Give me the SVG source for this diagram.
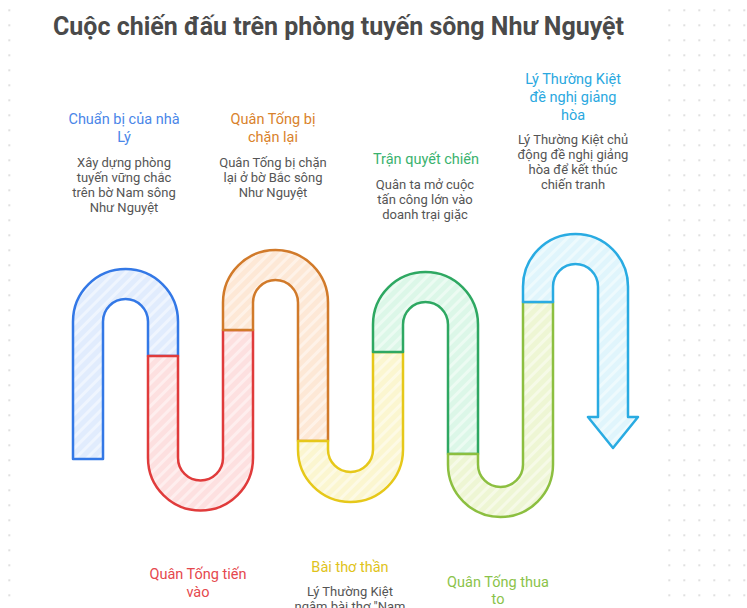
<svg xmlns="http://www.w3.org/2000/svg" width="747" height="608" viewBox="0 0 747 608">
<defs>
<pattern id="dots" x="9.3" y="10.3" width="15" height="15" patternUnits="userSpaceOnUse">
<circle cx="0" cy="0" r="1.1" fill="#d9d9d9"/><circle cx="15" cy="0" r="1.1" fill="#d9d9d9"/><circle cx="0" cy="15" r="1.1" fill="#d9d9d9"/><circle cx="15" cy="15" r="1.1" fill="#d9d9d9"/>
</pattern>
<pattern id="hatch" width="8" height="8" patternUnits="userSpaceOnUse" patternTransform="rotate(45)">
<rect x="0" y="0" width="3" height="8" fill="#ffffff" fill-opacity="0.45"/>
</pattern>
<style>
.seg{stroke-width:2.5;stroke-linejoin:round}
.h{fill:url(#hatch);stroke:none}
.t{font-family:Roboto,"Liberation Sans",sans-serif;font-size:14.5px;text-anchor:middle}
.d{font-family:Roboto,"Liberation Sans",sans-serif;font-size:13px;fill:#555555;text-anchor:middle}
</style>
</defs>
<rect width="747" height="608" fill="#ffffff"/>
<rect width="747" height="608" fill="url(#dots)"/>
<rect x="17" y="0" width="647" height="608" fill="#ffffff"/>
<text x="53" y="35" font-family="Roboto,'Liberation Sans',sans-serif" font-size="25" font-weight="bold" fill="#4a4a4a" textLength="571" lengthAdjust="spacingAndGlyphs">Cuộc chiến đấu trên phòng tuyến sông Như Nguyệt</text>

<g id="connectors">
<g id="seg-blue">
<path d="M73,459 V321.5 A52.5,52.5 0 0 1 178,321.5 V356 H148 V321.5 A22.5,22.5 0 0 0 103,321.5 V459 Z" fill="#e1ecfd"/>
<path class="h" d="M73,459 V321.5 A52.5,52.5 0 0 1 178,321.5 V356 H148 V321.5 A22.5,22.5 0 0 0 103,321.5 V459 Z"/>
<path class="seg" d="M73,459 V321.5 A52.5,52.5 0 0 1 178,321.5 V356 H148 V321.5 A22.5,22.5 0 0 0 103,321.5 V459 Z" fill="none" stroke="#3378e6"/>
</g>
<g id="seg-red">
<path d="M148,356 H178 V458 A22.5,22.5 0 0 0 223,458 V330 H253 V458 A52.5,52.5 0 0 1 148,458 Z" fill="#fde0e0"/>
<path class="h" d="M148,356 H178 V458 A22.5,22.5 0 0 0 223,458 V330 H253 V458 A52.5,52.5 0 0 1 148,458 Z"/>
<path class="seg" d="M148,356 H178 V458 A22.5,22.5 0 0 0 223,458 V330 H253 V458 A52.5,52.5 0 0 1 148,458 Z" fill="none" stroke="#e03b3b"/>
</g>
<g id="seg-orange">
<path d="M223,330 V302.5 A52.5,52.5 0 0 1 328,302.5 V441 H298 V302.5 A22.5,22.5 0 0 0 253,302.5 V330 Z" fill="#fde8d6"/>
<path class="h" d="M223,330 V302.5 A52.5,52.5 0 0 1 328,302.5 V441 H298 V302.5 A22.5,22.5 0 0 0 253,302.5 V330 Z"/>
<path class="seg" d="M223,330 V302.5 A52.5,52.5 0 0 1 328,302.5 V441 H298 V302.5 A22.5,22.5 0 0 0 253,302.5 V330 Z" fill="none" stroke="#d17a2a"/>
</g>
<g id="seg-yellow">
<path d="M298,441 H328 V449.5 A22.5,22.5 0 0 0 373,449.5 V352 H403 V449.5 A52.5,52.5 0 0 1 298,449.5 Z" fill="#fbf6d0"/>
<path class="h" d="M298,441 H328 V449.5 A22.5,22.5 0 0 0 373,449.5 V352 H403 V449.5 A52.5,52.5 0 0 1 298,449.5 Z"/>
<path class="seg" d="M298,441 H328 V449.5 A22.5,22.5 0 0 0 373,449.5 V352 H403 V449.5 A52.5,52.5 0 0 1 298,449.5 Z" fill="none" stroke="#e6c81a"/>
</g>
<g id="seg-green">
<path d="M373,352 V324.5 A52.5,52.5 0 0 1 478,324.5 V454 H448 V324.5 A22.5,22.5 0 0 0 403,324.5 V352 Z" fill="#dcf7e8"/>
<path class="h" d="M373,352 V324.5 A52.5,52.5 0 0 1 478,324.5 V454 H448 V324.5 A22.5,22.5 0 0 0 403,324.5 V352 Z"/>
<path class="seg" d="M373,352 V324.5 A52.5,52.5 0 0 1 478,324.5 V454 H448 V324.5 A22.5,22.5 0 0 0 403,324.5 V352 Z" fill="none" stroke="#2ea862"/>
</g>
<g id="seg-lime">
<path d="M448,454 H478 V464.5 A22.5,22.5 0 0 0 523,464.5 V302 H553 V464.5 A52.5,52.5 0 0 1 448,464.5 Z" fill="#eef6d4"/>
<path class="h" d="M448,454 H478 V464.5 A22.5,22.5 0 0 0 523,464.5 V302 H553 V464.5 A52.5,52.5 0 0 1 448,464.5 Z"/>
<path class="seg" d="M448,454 H478 V464.5 A22.5,22.5 0 0 0 523,464.5 V302 H553 V464.5 A52.5,52.5 0 0 1 448,464.5 Z" fill="none" stroke="#8cbf40"/>
</g>
<g id="seg-sky">
<path d="M523,302 V286.5 A52.5,52.5 0 0 1 628,286.5 V417 H638 L613,448 L588,417 H598 V286.5 A22.5,22.5 0 0 0 553,286.5 V302 Z" fill="#e0f5fc"/>
<path class="h" d="M523,302 V286.5 A52.5,52.5 0 0 1 628,286.5 V417 H638 L613,448 L588,417 H598 V286.5 A22.5,22.5 0 0 0 553,286.5 V302 Z"/>
<path class="seg" d="M523,302 V286.5 A52.5,52.5 0 0 1 628,286.5 V417 H638 L613,448 L588,417 H598 V286.5 A22.5,22.5 0 0 0 553,286.5 V302 Z" fill="none" stroke="#29abe2"/>
</g>
</g>

<g id="node-chuan-bi">
<text class="t" fill="#4a86e8"><tspan x="124" y="124">Chuẩn bị của nhà</tspan><tspan x="124" y="142">Lý</tspan></text>
<text class="d"><tspan x="124" y="166.5">Xây dựng phòng</tspan><tspan x="124" y="181.5">tuyến vững chắc</tspan><tspan x="124" y="196.5">trên bờ Nam sông</tspan><tspan x="124" y="211.5">Như Nguyệt</tspan></text>
</g>
<g id="node-chan-lai">
<text class="t" fill="#d9822b"><tspan x="273" y="124">Quân Tống bị</tspan><tspan x="273" y="142">chặn lại</tspan></text>
<text class="d"><tspan x="273" y="166.5">Quân Tống bị chặn</tspan><tspan x="273" y="181.5">lại ở bờ Bắc sông</tspan><tspan x="273" y="196.5">Như Nguyệt</tspan></text>
</g>
<g id="node-quyet-chien">
<text class="t" fill="#3ab26e"><tspan x="426" y="164">Trận quyết chiến</tspan></text>
<text class="d"><tspan x="425" y="188.5">Quân ta mở cuộc</tspan><tspan x="425" y="203.5">tấn công lớn vào</tspan><tspan x="425" y="218.5">doanh trại giặc</tspan></text>
</g>
<g id="node-giang-hoa">
<text class="t" fill="#2aa8e0"><tspan x="573" y="84">Lý Thường Kiệt</tspan><tspan x="573" y="102">đề nghị giảng</tspan><tspan x="573" y="120">hòa</tspan></text>
<text class="d"><tspan x="573" y="143.5">Lý Thường Kiệt chủ</tspan><tspan x="573" y="158.5">động đề nghị giảng</tspan><tspan x="573" y="173.5">hòa để kết thúc</tspan><tspan x="573" y="188.5">chiến tranh</tspan></text>
</g>
<g id="node-tien-vao">
<text class="t" fill="#e5484d"><tspan x="198" y="579">Quân Tống tiến</tspan><tspan x="198" y="597">vào</tspan></text>
</g>
<g id="node-bai-tho">
<text class="t" fill="#e0c31a"><tspan x="350" y="571.5">Bài thơ thần</tspan></text>
<text class="d"><tspan x="350" y="596">Lý Thường Kiệt</tspan><tspan x="350" y="611">ngâm bài thơ "Nam</tspan></text>
</g>
<g id="node-thua-to">
<text class="t" fill="#8bc34a"><tspan x="498" y="586.5">Quân Tống thua</tspan><tspan x="498" y="604">to</tspan></text>
</g>
</svg>
